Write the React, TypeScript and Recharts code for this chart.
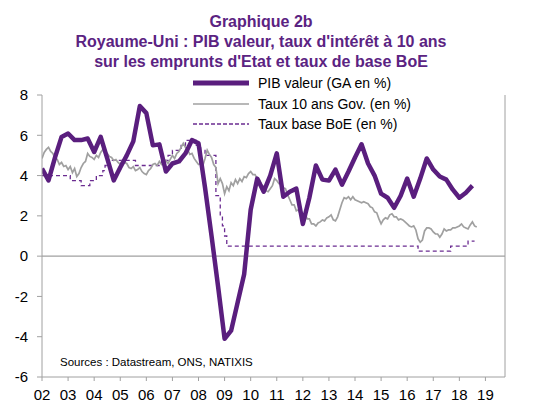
import { LineChart, Line, XAxis, YAxis, ReferenceLine } from "recharts";

const years = [2002, 2003, 2004, 2005, 2006, 2007, 2008, 2009, 2010, 2011, 2012, 2013, 2014, 2015, 2016, 2017, 2018, 2019];
const yTicks = [-6, -4, -2, 0, 2, 4, 6, 8];

// PIB valeur, GA en %, trimestriel depuis 2002T1
const pibValeur = [
  4.35, 3.76, 4.9, 5.92,
  6.09, 5.76, 5.76, 5.84,
  5.17, 5.92, 4.85, 3.76,
  4.4, 5.0, 5.7, 7.45,
  7.1, 5.5, 5.55, 4.2,
  4.6, 4.7, 5.1, 5.76,
  5.6, 3.4, 1.0, -1.5,
  -4.1, -3.7, -2.3, -0.9,
  2.3, 3.85, 3.2, 4.0,
  5.1, 2.95, 3.2, 3.35,
  1.6, 2.9, 4.5, 3.8,
  3.75, 4.3, 3.55, 4.2,
  4.9, 5.55, 4.6, 4.0,
  3.1, 2.9, 2.4, 3.0,
  3.85, 2.95, 3.85, 4.85,
  4.3, 3.95, 3.8, 3.3,
  2.9, 3.15, 3.5,
];

// Taux 10 ans Gov. (en %), mensuel depuis janv. 2002
const taux10ans = [
  4.85, 5.15, 5.3, 5.4, 5.2, 5.1, 4.85, 4.8, 4.55, 4.65, 4.45, 4.5,
  4.3, 4.45, 4.15, 4.35, 3.95, 4.1, 4.4, 4.6, 4.7, 5.1, 4.95, 4.9,
  4.8, 5.0, 4.9, 5.15, 5.3, 5.15, 5.1, 4.95, 4.9, 4.75, 4.8, 4.65,
  4.55, 4.75, 4.65, 4.6, 4.4, 4.35, 4.45, 4.25, 4.3, 4.4, 4.2, 4.1,
  4.05, 4.25, 4.35, 4.55, 4.6, 4.5, 4.7, 4.55, 4.65, 4.75, 4.6, 4.8,
  5.0, 4.85, 5.1, 5.2, 5.4, 5.6, 5.4, 5.3, 5.05, 5.1, 4.85, 4.7,
  4.55, 4.6, 4.5, 4.85, 5.26, 5.05, 4.9, 4.55, 4.4, 3.6, 3.85, 3.6,
  3.1, 3.45, 3.25, 3.65, 3.5, 3.8, 3.6, 3.85, 3.7, 3.95, 3.9, 4.1,
  4.2, 4.05, 4.05, 3.85, 3.8, 3.55, 3.45, 3.25, 3.2, 3.35, 3.5, 3.85,
  3.75, 3.6, 3.6, 3.4, 3.35, 3.05, 2.8, 2.55, 2.55, 2.25, 2.3, 2.05,
  2.05, 2.1, 1.85, 1.85, 1.6, 1.6, 1.5, 1.65, 1.7, 1.8, 1.75, 1.9,
  1.95, 2.05, 1.8, 1.75, 1.95, 2.3, 2.65, 2.9, 2.85, 2.95, 2.8, 2.95,
  2.8, 2.75, 2.7, 2.65, 2.7, 2.65, 2.6, 2.45, 2.4, 2.2, 2.15, 1.85,
  1.6, 1.8, 1.9, 1.85, 2.05, 2.1, 1.95, 1.95, 1.8, 1.85, 1.8, 1.7,
  1.6, 1.5, 1.45, 1.5, 1.3, 0.86, 0.69, 0.8, 1.25, 1.4, 1.4, 1.35,
  1.2, 1.1, 1.1, 0.94, 1.1, 1.35, 1.25, 1.3, 1.3, 1.4, 1.4, 1.45,
  1.5, 1.6, 1.45, 1.4, 1.35, 1.55, 1.7, 1.5, 1.45,
];

// Taux base BoE (en %) : dates de changement
const boeDates = [
  "2002-01", "2003-02", "2003-07", "2003-11", "2004-02", "2004-05", "2004-06", "2004-08",
  "2005-08", "2006-08", "2006-11", "2007-01", "2007-05", "2007-07", "2007-12", "2008-02",
  "2008-04", "2008-09", "2008-11", "2008-12", "2009-01", "2009-02", "2016-06", "2017-09",
  "2018-05", "2018-08",
];
const boeTaux = [
  4.0, 3.75, 3.5, 3.75, 4.0, 4.25, 4.5, 4.75,
  4.5, 4.75, 5.0, 5.25, 5.5, 5.75, 5.5, 5.25,
  5.0, 3.0, 2.0, 1.5, 1.0, 0.5, 0.25, 0.5,
  0.75, 0.75,
];

const toYear = (s: string) => {
  const [y, m] = s.split("-").map(Number);
  return y + (m - 1) / 12;
};

const pibData = pibValeur.map((v, i) => ({ t: 2002 + i / 4, v }));
const govData = taux10ans.map((v, i) => ({ t: 2002 + i / 12, v }));
const boeData = boeDates.map((d, i) => ({ t: toYear(d), v: boeTaux[i] }));

const PURPLE = "#5a1e7e";
const GREY = "#a0a0a0";
const AXIS = "#a0a0a0";
const FONT = "'Liberation Sans', Arial, sans-serif";

const tickStyle = { fill: "#000", fontSize: 15, fontFamily: FONT };

export default function App() {
  return (
    <div style={{ position: "relative", width: 533, height: 403, fontFamily: FONT, overflow: "hidden" }}>
      <style>{"body{margin:0}"}</style>
      <div
        style={{
          position: "absolute",
          top: 11.5,
          left: 0,
          width: 522,
          textAlign: "center",
          color: "#5b2382",
          fontWeight: "bold",
          fontSize: 16,
          lineHeight: "20px",
        }}
      >
        <div>Graphique 2b</div>
        <div>Royaume-Uni : PIB valeur, taux d'intérêt à 10 ans</div>
        <div>sur les emprunts d'Etat et taux de base BoE</div>
      </div>

      <LineChart width={533} height={403} margin={{ top: 95, right: 0, bottom: 0, left: 0 }}>
        <XAxis
          type="number"
          dataKey="t"
          domain={[2002, 2019.75]}
          ticks={years}
          interval={0}
          allowDataOverflow
          tickFormatter={(y) => String(y).slice(2)}
          height={26}
          tickSize={4}
          tickMargin={8}
          stroke={AXIS}
          tick={tickStyle}
        />
        <YAxis
          yAxisId="l"
          domain={[-6, 8]}
          ticks={yTicks}
          interval={0}
          width={42}
          tickSize={5}
          tickMargin={9}
          stroke={AXIS}
          tick={tickStyle}
        />
        <YAxis
          yAxisId="r"
          orientation="right"
          domain={[-6, 8]}
          ticks={yTicks}
          interval={0}
          width={28}
          tickSize={4}
          tickMargin={8}
          stroke={AXIS}
          tick={{ ...tickStyle, textAnchor: "start" }}
        />
        <ReferenceLine yAxisId="l" y={0} stroke={AXIS} strokeWidth={1.2} />
        <Line
          yAxisId="l"
          data={boeData}
          dataKey="v"
          type="stepAfter"
          stroke="#6b2c91"
          strokeWidth={1.3}
          strokeDasharray="4 3"
          dot={false}
          isAnimationActive={false}
        />
        <Line
          yAxisId="l"
          data={govData}
          dataKey="v"
          type="linear"
          stroke={GREY}
          strokeWidth={1.7}
          dot={false}
          isAnimationActive={false}
        />
        <Line
          yAxisId="l"
          data={pibData}
          dataKey="v"
          type="linear"
          stroke={PURPLE}
          strokeWidth={4.5}
          strokeLinejoin="round"
          dot={false}
          isAnimationActive={false}
        />
      </LineChart>

      {/* légende */}
      <div style={{ position: "absolute", left: 193, top: 73, fontSize: 14, color: "#000" }}>
        {[
          { label: "PIB valeur (GA en %)", stroke: PURPLE, w: 5, dash: undefined as string | undefined },
          { label: "Taux 10 ans Gov. (en %)", stroke: GREY, w: 1.7, dash: undefined },
          { label: "Taux base BoE (en %)", stroke: "#6b2c91", w: 1.3, dash: "4 2" },
        ].map((it) => (
          <div key={it.label} style={{ display: "flex", alignItems: "center", height: 20.5 }}>
            <svg width={56} height={10} style={{ marginRight: 9 }}>
              <line x1={0} y1={5} x2={56} y2={5} stroke={it.stroke} strokeWidth={it.w} strokeDasharray={it.dash} />
            </svg>
            <span style={{ whiteSpace: "nowrap" }}>{it.label}</span>
          </div>
        ))}
      </div>

      <div style={{ position: "absolute", left: 60, top: 356, fontSize: 11.5, color: "#000", whiteSpace: "nowrap" }}>
        Sources : Datastream, ONS, NATIXIS
      </div>
    </div>
  );
}
